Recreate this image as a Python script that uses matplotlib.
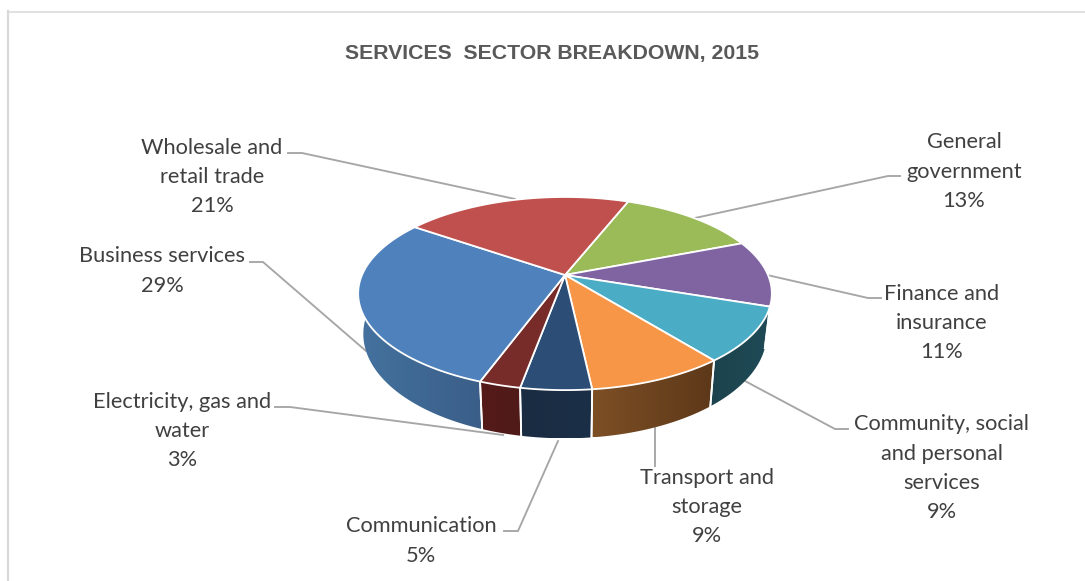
import numpy as np
import matplotlib
matplotlib.use("Agg")
import matplotlib.pyplot as plt
from matplotlib.patches import Polygon

title = "SERVICES  SECTOR BREAKDOWN, 2015"
categories = ["General\ngovernment", "Finance and\ninsurance",
              "Community, social\nand personal\nservices", "Transport and\nstorage",
              "Communication", "Electricity, gas and\nwater",
              "Business services", "Wholesale and\nretail trade"]
values = [13.1, 11.1, 9.1, 9.0, 4.6, 2.7, 29.1, 21.3]
top_colors = ["#9bbb59", "#8064a2", "#4bacc6", "#f79646", "#2c4d75", "#772c2a", "#4f81bd", "#c0504d"]
wall_left = ["#9bbb59", "#8064a2", "#1c434d", "#7d4f25", "#1a2c42", "#541a18", "#44729f", "#c0504d"]
wall_right = ["#9bbb59", "#8064a2", "#1f4a55", "#5d3819", "#1a2f47", "#4f1b18", "#3a5e88", "#c0504d"]
label_centers = [(964, 141), (942, 292), (942, 423), (707, 476), (421, 525), (182, 400), (162, 255), (212, 146)]
leaders = [
    [(900, 176), (888, 176), (695, 218)],
    [(881, 298), (868, 298), (767, 275)],
    [(848, 429), (835, 429), (745, 381)],
    [(655, 466), (655, 428)],
    [(504, 531), (518, 531), (558, 441)],
    [(275, 407), (290, 407), (503, 435)],
    [(250, 262), (263, 262), (366, 351)],
    [(288, 153), (302, 153), (515, 199)],
]
START_DEG = 21.5
CX, CY, A, B, K = 565, 275, 203, 93, 0.192
LINE_H = 29.3

def top(theta):
    t = np.radians(theta)
    w = 1 + K * np.cos(t)
    return CX + A * np.sin(t) / w, CY - B * np.cos(t) / w

def bottom(theta):
    x, y = top(theta)
    return CX + 0.975 * (x - CX), CY + 39 + 1.08 * (y - CY)

def hex2rgb(c):
    return np.array(matplotlib.colors.to_rgb(c))

fig = plt.figure(figsize=(10.85, 5.81), dpi=100, facecolor="white")
ax = fig.add_axes([0, 0, 1, 1])
ax.axis("off")

ax.plot([9, 1085], [11.5, 11.5], color="#d9d9d9", lw=1.1, zorder=1)
ax.plot([8.3, 8.3], [11, 581], color="#d9d9d9", lw=1.6, zorder=1)

ax.text(552, 54, title, ha="center", va="center", family="Liberation Sans",
        weight="bold", fontsize=15.35, color="#595959")

for pts in leaders:
    xs, ys = zip(*pts)
    ax.plot(xs, ys, color="#a6a6a6", lw=1.35, zorder=2, solid_joinstyle="miter")

edges = START_DEG + 3.6 * np.concatenate([[0], np.cumsum(values)])

# side walls, each a horizontal gradient clipped to the wall outline
for i in range(len(values)):
    a0, a1 = edges[i], edges[i + 1]
    lo, hi = max(a0, 100), min(a1, 268)
    if hi <= lo:
        continue
    grid = np.linspace(lo, hi, 200)
    tx, ty = top(grid)
    bx, by = bottom(grid)
    outline = np.vstack([np.column_stack([tx, ty]), np.column_stack([bx, by])[::-1]])
    patch = Polygon(outline, closed=True, facecolor="none", edgecolor="none", transform=ax.transData)
    ax.add_patch(patch)
    x0, x1 = outline[:, 0].min(), outline[:, 0].max()
    y0, y1 = outline[:, 1].min(), outline[:, 1].max()
    c0, c1 = hex2rgb(wall_left[i]), hex2rgb(wall_right[i])
    f = np.linspace(0, 1, 64)[None, :, None]
    img = c0 * (1 - f) + c1 * f
    im = ax.imshow(img, extent=(x0, x1, y1, y0), aspect="auto", zorder=3, interpolation="bilinear")
    im.set_clip_path(patch)
    for e in (a0, a1):
        if 105 < e < 268:
            p0, p1 = top(e), bottom(e)
            ax.plot([p0[0], p1[0]], [p0[1], p1[1]], color="white", lw=1.3, zorder=4)

# top faces
for i in range(len(values)):
    grid = np.linspace(edges[i], edges[i + 1], 80)
    xs, ys = top(grid)
    verts = [(CX, CY)] + list(zip(xs, ys))
    ax.add_patch(Polygon(verts, closed=True, facecolor=top_colors[i], edgecolor="white",
                         lw=1.3, joinstyle="round", zorder=5))

# labels
for cat, v, (x, y) in zip(categories, values, label_centers):
    lines = cat.split("\n") + [f"{v:.0f}%"]
    for k, s in enumerate(lines):
        ax.text(x, y + 1.5 + k * LINE_H, s, ha="center", va="center", family="Lato",
                fontsize=15.7, color="#404040", zorder=6)

ax.set_xlim(0, 1085)
ax.set_ylim(581, 0)
fig.savefig("out.png", dpi=100, facecolor="white")
